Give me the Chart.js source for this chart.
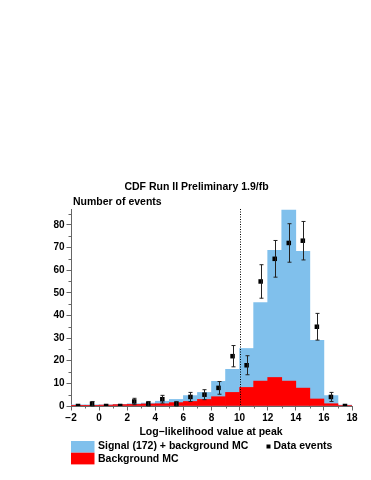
<!DOCTYPE html>
<html>
<head>
<meta charset="utf-8">
<script src="https://cdn.jsdelivr.net/npm/chart.js@4.4.0/dist/chart.umd.min.js"></script>
<style>
  html, body { margin: 0; padding: 0; background: #fff; }
  #wrap { width: 371px; height: 480px; }
</style>
</head>
<body>
<div id="wrap"><canvas id="chart" width="371" height="480"></canvas></div>
<script>
// histogram bins (width 1) from -2 to 18
const binCenters   = [-1.5, -0.5, 0.5, 1.5, 2.5, 3.5, 4.5, 5.5, 6.5, 7.5, 8.5, 9.5, 10.5, 11.5, 12.5, 13.5, 14.5, 15.5, 16.5, 17.5];
const signalPlusBg = [0.5, 0.5, 0.5, 0.7, 1.0, 1.3, 2.1, 2.9, 4.6, 6.0, 10.9, 16.2, 25.4, 45.7, 68.8, 86.5, 68.3, 29.0, 4.6, 0.4];
const backgroundMC = [0.3, 0.3, 0.4, 0.6, 0.7, 0.9, 1.0, 1.5, 2.0, 2.9, 4.1, 6.0, 8.2, 11.0, 12.6, 11.0, 7.9, 3.1, 1.0, 0.2];
const dataEvents   = [0, 1, 0, 0, 2, 1, 3, 1, 4, 5, 8, 22, 18, 55, 65, 72, 73, 35, 4, 0];
const dataErrors   = [0, 1, 0, 0, 1.4, 1, 1.7, 1, 2, 2.2, 2.8, 4.7, 4.2, 7.4, 8.1, 8.5, 8.5, 5.9, 2, 0];
const xTicks = [-2, 0, 2, 4, 6, 8, 10, 12, 14, 16, 18];
const yTicks = [0, 10, 20, 30, 40, 50, 60, 70, 80];
const cutValue = 10;

const FONT = '"Liberation Sans", Arial, sans-serif';
const BLUE = 'rgb(128,192,236)';
const RED = '#ff0000';
const AXIS = '#666';

const extras = {
    id: 'extras',
    afterDatasetsDraw(chart) {
        const ctx = chart.ctx;
        const x = chart.scales.x, y = chart.scales.y;
        const area = chart.chartArea;
        ctx.save();

        // dotted cut line
        ctx.strokeStyle = '#000';
        ctx.lineWidth = 1;
        ctx.setLineDash([1, 1.5]);
        const cx = Math.round(x.getPixelForValue(cutValue)) + 0.5;
        ctx.beginPath();
        ctx.moveTo(cx, area.top);
        ctx.lineTo(cx, area.bottom);
        ctx.stroke();
        ctx.setLineDash([]);

        // error bars
        ctx.strokeStyle = '#222';
        binCenters.forEach((c, i) => {
            const e = dataErrors[i];
            if (!e) return;
            const px = Math.round(x.getPixelForValue(c)) + 0.5;
            const top = y.getPixelForValue(dataEvents[i] + e);
            const bot = y.getPixelForValue(dataEvents[i] - e);
            ctx.beginPath();
            ctx.moveTo(px, top); ctx.lineTo(px, bot);
            ctx.moveTo(px - 2, top); ctx.lineTo(px + 2, top);
            ctx.moveTo(px - 2, bot); ctx.lineTo(px + 2, bot);
            ctx.stroke();
        });
        ctx.restore();
    },
    afterDraw(chart) {
        const ctx = chart.ctx;
        const x = chart.scales.x, y = chart.scales.y;
        const area = chart.chartArea;
        ctx.save();

        // minor ticks
        ctx.strokeStyle = AXIS;
        ctx.lineWidth = 1;
        ctx.beginPath();
        for (let v = 5; v < 87; v += 10) {
            const py = Math.round(y.getPixelForValue(v)) + 0.5;
            ctx.moveTo(area.left - 2.5, py); ctx.lineTo(area.left, py);
        }
        for (let v = -1; v < 18; v += 2) {
            const px = Math.round(x.getPixelForValue(v)) + 0.5;
            ctx.moveTo(px, area.bottom); ctx.lineTo(px, area.bottom + 2.5);
        }
        ctx.stroke();

        ctx.fillStyle = '#000';
        ctx.font = 'bold 10.5px ' + FONT;
        ctx.textBaseline = 'middle';

        ctx.textAlign = 'center';
        ctx.fillText('CDF Run II Preliminary 1.9/fb', 196.5, 187);
        ctx.fillText('Log\u2212likelihood value at peak', 211, 432);

        ctx.textAlign = 'left';
        ctx.fillText('Number of events', 73, 202.5);

        // legend
        ctx.fillStyle = BLUE;
        ctx.fillRect(71, 441, 23.5, 11.7);
        ctx.fillStyle = RED;
        ctx.fillRect(71, 452.7, 23.5, 11.7);
        ctx.fillStyle = '#000';
        ctx.fillText('Signal (172) + background MC', 98, 446.5);
        ctx.fillText('Background MC', 98, 459);
        ctx.fillRect(266.5, 444.5, 4, 4);
        ctx.fillText('Data events', 273.5, 446.5);
        ctx.restore();
    }
};

const pts = arr => binCenters.map((c, i) => ({ x: c, y: arr[i] }));

new Chart(document.getElementById('chart'), {
    type: 'bar',
    data: {
        datasets: [
            {
                type: 'scatter',
                data: pts(dataEvents),
                pointStyle: 'rect',
                pointRadius: 3.2,
                backgroundColor: '#000',
                borderWidth: 0,
                order: 0
            },
            {
                data: pts(backgroundMC),
                backgroundColor: RED,
                borderWidth: 0,
                grouped: false,
                barPercentage: 1,
                categoryPercentage: 1,
                order: 1
            },
            {
                data: pts(signalPlusBg),
                backgroundColor: BLUE,
                borderWidth: 0,
                grouped: false,
                barPercentage: 1,
                categoryPercentage: 1,
                order: 2
            }
        ]
    },
    options: {
        responsive: false,
        animation: false,
        layout: { padding: { top: 209, right: 19, bottom: 54, left: 0 } },
        plugins: { legend: { display: false }, tooltip: { enabled: false }, title: { display: false } },
        scales: {
            x: {
                type: 'linear',
                min: -2,
                max: 18,
                offset: false,
                grid: { offset: false, drawOnChartArea: false, tickLength: 4.5, color: AXIS },
                border: { color: AXIS },
                afterBuildTicks: s => { s.ticks = xTicks.map(v => ({ value: v })); },
                afterFit: s => { s.height = 20; },
                ticks: {
                    autoSkip: false,
                    maxRotation: 0,
                    padding: 2,
                    color: '#000',
                    font: { family: FONT, size: 10, weight: 'bold' },
                    callback: v => v < 0 ? '\u2212' + Math.abs(v) : String(v)
                }
            },
            y: {
                min: 0,
                max: 87,
                grid: { drawOnChartArea: false, tickLength: 4.5, color: AXIS },
                border: { color: AXIS },
                afterBuildTicks: s => { s.ticks = yTicks.map(v => ({ value: v })); },
                afterFit: s => { s.width = 71; },
                ticks: {
                    padding: 2,
                    color: '#000',
                    font: { family: FONT, size: 10, weight: 'bold' }
                }
            }
        }
    },
    plugins: [extras]
});
</script>
</body>
</html>
